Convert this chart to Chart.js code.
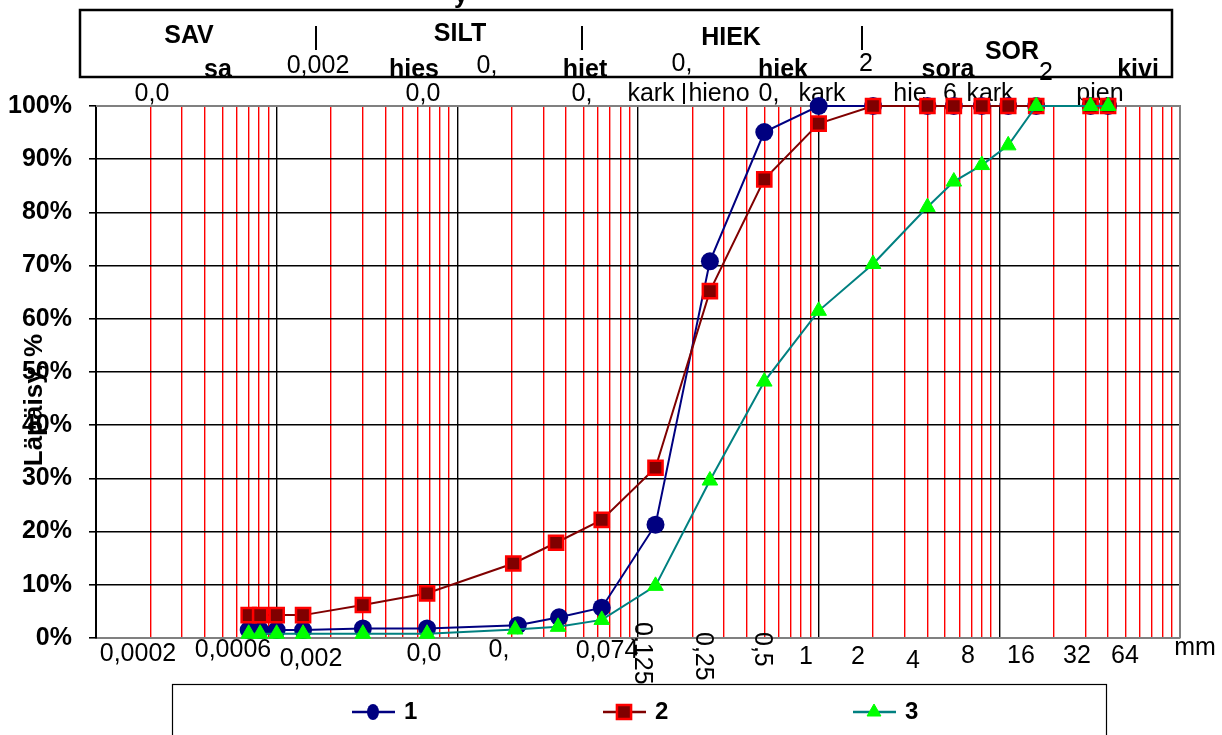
<!DOCTYPE html>
<html><head><meta charset="utf-8">
<script src="https://cdn.jsdelivr.net/npm/chart.js@4"></script>
<style>html,body{margin:0;padding:0;background:#fff;}canvas{display:block;}</style>
</head><body>
<canvas id="c" width="1222" height="735"></canvas>
<script>
// ---- data (grain size in mm, passing %) ----
const seriesNames = ['1', '2', '3'];
const sizes1 = [0.0007, 0.00081, 0.001, 0.0014, 0.003, 0.0068, 0.0216, 0.0366, 0.063, 0.125, 0.25, 0.5, 1, 2, 4, 5.6, 8, 11.2, 16, 32, 40];
const pass1  = [1.5, 1.5, 1.5, 1.5, 1.8, 1.8, 2.4, 3.9, 5.7, 21.3, 70.8, 95.1, 100, 100, 100, 100, 100, 100, 100, 100, 100];
const sizes2 = [0.0007, 0.00081, 0.001, 0.0014, 0.003, 0.0068, 0.0204, 0.0352, 0.063, 0.125, 0.25, 0.5, 1, 2, 4, 5.6, 8, 11.2, 16, 32, 40];
const pass2  = [4.3, 4.3, 4.3, 4.3, 6.2, 8.4, 14.0, 17.9, 22.2, 32.0, 65.2, 86.2, 96.7, 100, 100, 100, 100, 100, 100, 100, 100];
const sizes3 = [0.0007, 0.00081, 0.001, 0.0014, 0.003, 0.0068, 0.0209, 0.0361, 0.063, 0.125, 0.25, 0.5, 1, 2, 4, 5.6, 8, 11.2, 16, 32, 40];
const pass3  = [0.8, 0.8, 0.8, 0.8, 0.8, 0.8, 1.6, 2.1, 3.4, 9.8, 29.6, 48.2, 61.5, 70.3, 81.0, 85.8, 88.9, 92.6, 100, 100, 100];
const gridValues = [
  0.0001,0.0002,0.0003,0.0004,0.0005,0.0006,0.0007,0.0008,0.0009,
  0.001,0.002,0.003,0.004,0.005,0.006,0.007,0.008,0.009,
  0.01,0.02,0.03,0.04,0.05,0.06,0.07,0.08,0.09,
  0.1,0.2,0.3,0.4,0.5,0.6,0.7,0.8,0.9,
  1,2,3,4,5,6,7,8,9,
  10,20,30,40,50,60,70,80,90,100];
const yTickStep = 10;
const bottomLabels = ['0,0002','0,0006','0,002','0,0','0,','0,074','1','2','4','8','16','32','64','mm'];
const rotatedLabels = ['0,125','0,25','0,5'];
const yTitle = 'Läpäisy, %';

const FONT = "'Liberation Sans', Arial, sans-serif";
const pts = (xs, ys) => xs.map((x, i) => ({x: x, y: ys[i]}));
const isDecade = v => Math.abs(Math.log10(v) - Math.round(Math.log10(v))) < 1e-9;

function txt(ctx, s, x, y, size, bold, align, base) {
  ctx.font = (bold ? 'bold ' : '') + size + 'px ' + FONT;
  ctx.textAlign = align || 'center';
  ctx.textBaseline = base || 'middle';
  ctx.fillStyle = '#000';
  ctx.fillText(s, x, y);
}

function marker(ctx, style, x, y, r, fill, stroke, bw) {
  ctx.save();
  ctx.beginPath();
  if (style === 'circle') ctx.ellipse(x, y, r * 0.75, r, 0, 0, Math.PI * 2);
  else if (style === 'rect') { const s = r * Math.SQRT1_2; ctx.rect(x - s, y - s, 2 * s, 2 * s); }
  else { ctx.moveTo(x, y - r); ctx.lineTo(x + r * 0.866, y + r / 2); ctx.lineTo(x - r * 0.866, y + r / 2); ctx.closePath(); }
  ctx.fillStyle = fill; ctx.fill();
  if (bw) { ctx.lineWidth = bw; ctx.strokeStyle = stroke; ctx.stroke(); }
  ctx.restore();
}

const decor = {
  id: 'decor',
  beforeDraw(chart) {
    const ctx = chart.ctx;
    ctx.save(); ctx.fillStyle = '#fff'; ctx.fillRect(0, 0, chart.width, chart.height); ctx.restore();
  },
  beforeDatasetsDraw(chart) {
    const ctx = chart.ctx, a = chart.chartArea;
    ctx.save();
    ctx.strokeStyle = '#808080'; ctx.lineWidth = 2;
    ctx.beginPath(); ctx.moveTo(a.left, a.top); ctx.lineTo(a.right, a.top); ctx.lineTo(a.right, a.bottom); ctx.stroke();
    const row3 = [['0,0',152],['0,0',423],['0,',582],['kark',651],['hieno',719],['0,',769],['kark',822],['hie',910],['6',950],['kark',990],['pien',1100]];
    row3.forEach(r => txt(ctx, r[0], r[1], 94, 25, false));
    ctx.strokeStyle = '#000'; ctx.lineWidth = 2;
    ctx.beginPath(); ctx.moveTo(684, 83); ctx.lineTo(684, 104); ctx.stroke();
    ctx.restore();
  },
  afterDraw(chart) {
    const ctx = chart.ctx;
    ctx.save();
    txt(ctx, 'y', 461, 3, 25, true, 'center', 'alphabetic');
    ctx.strokeStyle = '#000'; ctx.lineWidth = 2.5;
    ctx.strokeRect(80, 10, 1092, 67);
    const row1 = [['SAV',189,36,true],['|',316,38,false],['SILT',460,34,true],['|',582,38,false],['HIEK',731,38,true],['|',862,38,false],['SOR',1012,52,true]];
    row1.forEach(r => txt(ctx, r[0], r[1], r[2], 25, r[3]));
    const row2 = [['sa',218,70,true],['0,002',318,66,false],['hies',414,70,true],['0,',487,66,false],['hiet',585,70,true],['0,',682,64,false],['hiek',783,70,true],['2',866,64,false],['sora',948,70,true],['2',1046,73,false],['kivi',1138,70,true]];
    row2.forEach(r => txt(ctx, r[0], r[1], r[2], 25, r[3]));
    const bpos = [[138,654],[233,650],[311,659],[424,654],[499,650],[607,651],[806,657],[858,657],[913,661],[968,656],[1021,656],[1077,656],[1125,656],[1195,648]];
    bottomLabels.forEach((s, i) => txt(ctx, s, bpos[i][0], bpos[i][1], 25, false));
    const rpos = [[642,622],[703,632],[762,632]];
    rotatedLabels.forEach((s, i) => {
      ctx.save(); ctx.translate(rpos[i][0], rpos[i][1]); ctx.rotate(Math.PI / 2);
      txt(ctx, s, 0, 0, 25, false, 'left', 'middle'); ctx.restore();
    });
    ctx.save(); ctx.translate(35, 400); ctx.rotate(-Math.PI / 2);
    txt(ctx, yTitle, 0, 0, 26, true); ctx.restore();
    ctx.fillStyle = '#fff'; ctx.fillRect(172, 684, 934, 60);
    ctx.strokeStyle = '#000'; ctx.lineWidth = 1.2; ctx.strokeRect(172.5, 684.5, 934, 60);
    const lx = [352, 603, 853], ly = 712;
    chart.data.datasets.forEach((d, i) => {
      ctx.strokeStyle = d.borderColor; ctx.lineWidth = 2.5;
      ctx.beginPath(); ctx.moveTo(lx[i], ly); ctx.lineTo(lx[i] + 43, ly); ctx.stroke();
      marker(ctx, d.pointStyle, lx[i] + 21, ly, d.pointStyle === 'rect' ? 10 : 8, d.pointBackgroundColor, d.pointBorderColor, d.pointBorderWidth);
      txt(ctx, seriesNames[i], lx[i] + 52, ly, 24, true, 'left');
    });
    ctx.restore();
  }
};

new Chart(document.getElementById('c'), {
  type: 'line',
  data: {
    datasets: [
      { label: seriesNames[0], data: pts(sizes1, pass1), borderColor: '#000080', borderWidth: 2,
        pointStyle: 'circle', pointRadius: 9, pointBackgroundColor: '#000080', pointBorderColor: '#000080', pointBorderWidth: 0, order: 3, clip: false },
      { label: seriesNames[1], data: pts(sizes2, pass2), borderColor: '#800000', borderWidth: 2,
        pointStyle: 'rect', pointRadius: 10, pointBackgroundColor: '#800000', pointBorderColor: '#FF0000', pointBorderWidth: 2.5, order: 2, clip: false },
      { label: seriesNames[2], data: pts(sizes3, pass3), borderColor: '#008080', borderWidth: 2,
        pointStyle: 'triangle', pointRadius: 9, pointBackgroundColor: '#00FF00', pointBorderColor: '#00FF00', pointBorderWidth: 1, order: 1, clip: false }
    ]
  },
  options: {
    responsive: false, animation: false,
    layout: { padding: { top: 106, right: 42, left: 0, bottom: 0 } },
    elements: { line: { tension: 0 } },
    plugins: { legend: { display: false }, tooltip: { enabled: false } },
    scales: {
      x: {
        type: 'logarithmic', min: 0.0001, max: 100,
        afterBuildTicks: s => { s.ticks = gridValues.map(v => ({ value: v })); },
        ticks: { display: false },
        grid: { color: c => (c.tick && isDecade(c.tick.value)) ? '#000000' : '#FF0000', lineWidth: 1.4, drawTicks: false },
        border: { display: true, color: '#808080', width: 2 },
        afterFit: s => { s.height = 97; }
      },
      y: {
        min: 0, max: 100,
        ticks: { stepSize: yTickStep, callback: v => v + '%', color: '#000', padding: 17,
                 font: { family: FONT, size: 25, weight: 'bold' } },
        grid: { color: c => (c.tick && (c.tick.value === 0 || c.tick.value === 100)) ? '#808080' : '#000000', lineWidth: 1.6, tickLength: 7, tickColor: '#000' },
        border: { display: true, color: '#000', width: 2 },
        afterFit: s => { s.width = 96; }
      }
    }
  },
  plugins: [decor]
});
</script>
</body></html>
